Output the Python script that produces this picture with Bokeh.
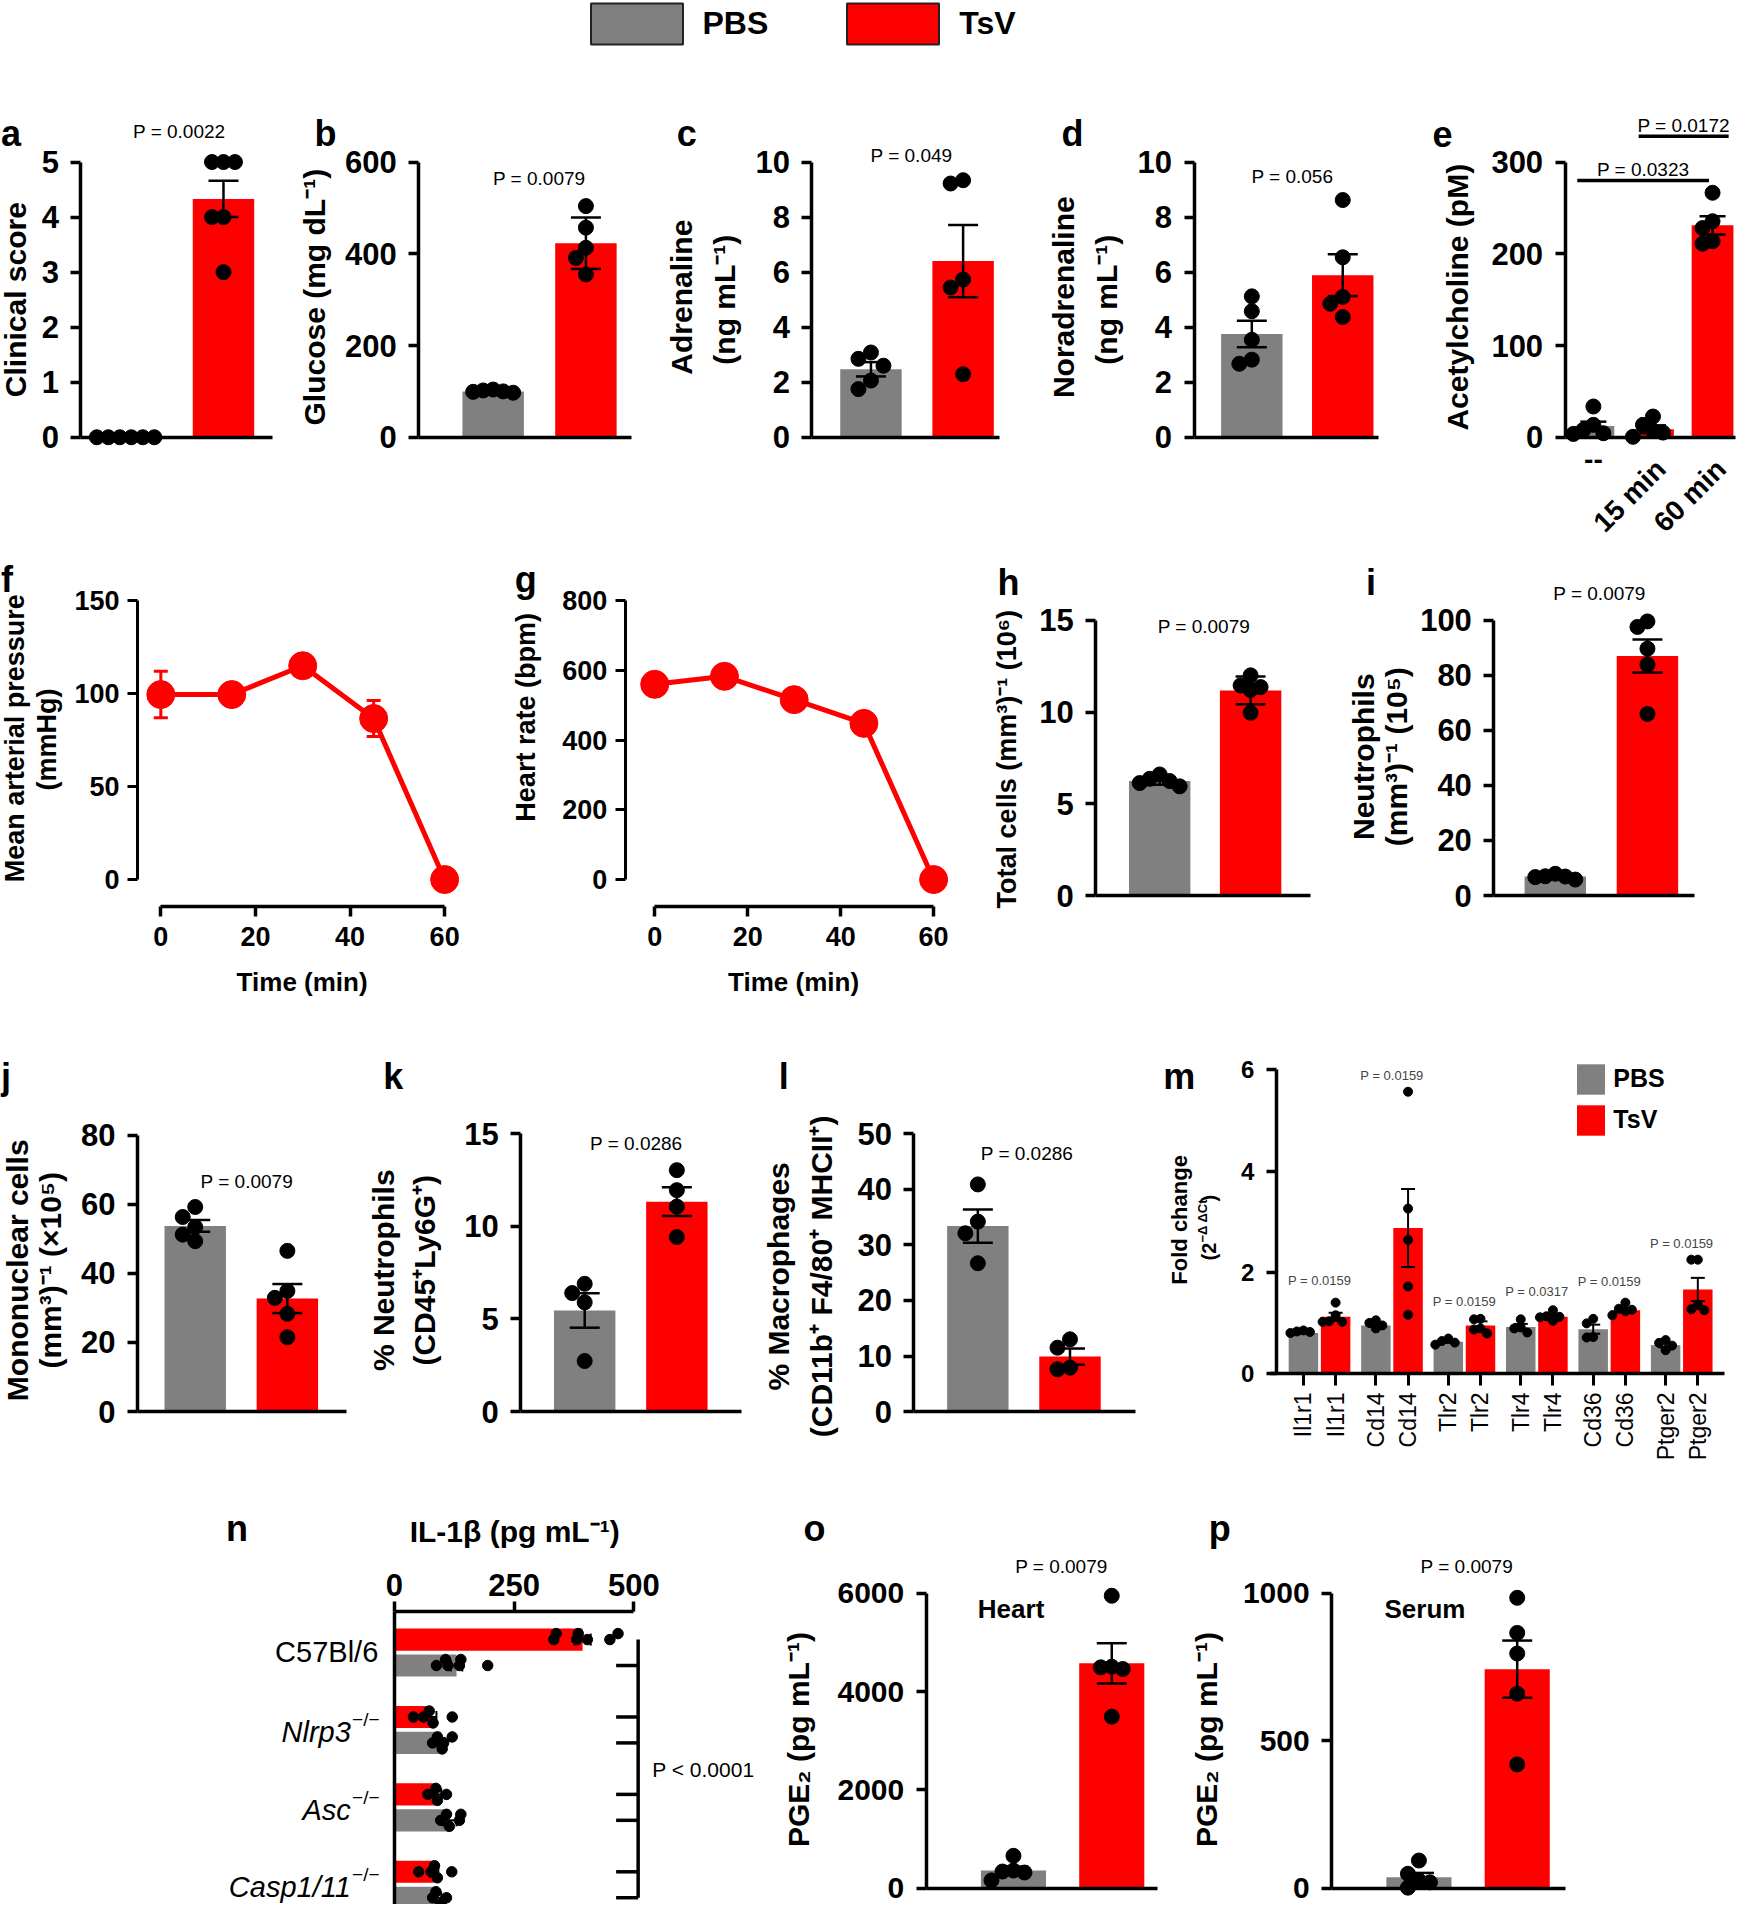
import math
from bokeh.plotting import figure
from bokeh.layouts import column, row
from bokeh.models import (Range1d, FixedTicker, Label, ColumnDataSource, Whisker,
                          TeeHead, Legend, LegendItem)
from bokeh.embed import file_html
from bokeh.resources import INLINE

# ---------------------------------------------------------------- data
GROUPS = ["PBS", "TsV"]

A_TICKS = [0, 1, 2, 3, 4, 5]
A_MEAN = [0.0, 4.33]
A_SEM = [0.0, 0.33]
A_PBS = [0, 0, 0, 0, 0, 0]
A_TSV = [5, 5, 5, 4, 4, 3]
A_P = "P = 0.0022"

B_TICKS = [0, 200, 400, 600]
B_MEAN = [100, 423]
B_SEM = [1.5, 56]
B_PBS = [104, 102, 100, 99, 97]
B_TSV = [504, 457, 413, 391, 355]
B_P = "P = 0.0079"

C_TICKS = [0, 2, 4, 6, 8, 10]
C_MEAN = [2.47, 6.40]
C_SEM = [0.26, 1.31]
C_PBS = [3.08, 2.85, 2.60, 2.06, 1.75]
C_TSV = [9.34, 9.22, 5.73, 5.44, 2.29]
C_P = "P = 0.049"

D_TICKS = [0, 2, 4, 6, 8, 10]
D_MEAN = [3.75, 5.89]
D_SEM = [0.48, 0.76]
D_PBS = [5.12, 4.58, 3.54, 2.82, 2.67]
D_TSV = [8.62, 6.54, 5.10, 4.85, 4.37]
D_P = "P = 0.056"

E_CATS = ["--", "15 min", "60 min"]
E_TICKS = [0, 100, 200, 300]
E_MEAN = [12.4, 8.7, 231]
E_SEM = [4.6, 4.3, 10]
E_DOTS = [[33.5, 13.5, 8, 4.4, 3.6], [22.6, 13.5, 7.3, 5.1, 0.5], [266.5, 235.5, 228, 213.7, 211]]
E_BRACKETS = [(0, 2, 280, "P = 0.0323"), (1, 2, 328, "P = 0.0172")]

TIME = [0, 15, 30, 45, 60]
TIME_TICKS = [0, 20, 40, 60]
F_TICKS = [0, 50, 100, 150]
F_MAP = [99.5, 99.5, 115, 86.6, 0]
F_ERR = [12.5, 0, 0, 9.7, 0]
G_TICKS = [0, 200, 400, 600, 800]
G_HR = [560, 583, 516, 448, 0]

H_TICKS = [0, 5, 10, 15]
H_MEAN = [6.24, 11.18]
H_SEM = [0.2, 0.76]
H_PBS = [6.6, 6.36, 6.24, 6.13, 5.95]
H_TSV = [12.0, 11.45, 11.36, 11.2, 9.96]
H_P = "P = 0.0079"

I_TICKS = [0, 20, 40, 60, 80, 100]
I_MEAN = [6.9, 87.0]
I_SEM = [0.35, 6.0]
I_PBS = [7.9, 7.0, 6.9, 6.7, 5.8]
I_TSV = [99.6, 97.6, 89.7, 83.9, 66.0]
I_P = "P = 0.0079"

J_TICKS = [0, 20, 40, 60, 80]
J_MEAN = [53.7, 32.7]
J_SEM = [1.7, 4.2]
J_PBS = [59.2, 56.3, 53.4, 51.2, 49.3]
J_TSV = [46.5, 34.9, 32.9, 28.3, 21.5]
J_P = "P = 0.0079"

K_TICKS = [0, 5, 10, 15]
K_MEAN = [5.46, 11.34]
K_SEM = [0.93, 0.78]
K_PBS = [6.9, 6.4, 5.9, 2.73]
K_TSV = [13.04, 11.96, 11.07, 9.43]
K_P = "P = 0.0286"

L_TICKS = [0, 10, 20, 30, 40, 50]
L_MEAN = [33.4, 9.9]
L_SEM = [3.0, 1.45]
L_PBS = [40.9, 34.2, 32.1, 26.7]
L_TSV = [13.0, 11.5, 7.9, 7.6]
L_P = "P = 0.0286"

M_GENES = ["Il1r1", "Cd14", "Tlr2", "Tlr4", "Cd36", "Ptger2"]
M_TICKS = [0, 2, 4, 6]
M_PBS_MEAN = [0.80, 0.95, 0.625, 0.92, 0.875, 0.56]
M_PBS_SEM = [0.01, 0.03, 0.02, 0.06, 0.09, 0.045]
M_TSV_MEAN = [1.12, 2.875, 0.95, 1.12, 1.25, 1.66]
M_TSV_SEM = [0.08, 0.77, 0.08, 0.03, 0.04, 0.23]
M_PBS_DOTS = [[0.85, 0.83, 0.82, 0.80], [1.05, 1.0, 0.95, 0.89], [0.69, 0.64, 0.61, 0.57],
              [1.07, 0.91, 0.89, 0.81], [1.08, 0.99, 0.72, 0.71], [0.66, 0.605, 0.55, 0.46]]
M_TSV_DOTS = [[1.40, 1.15, 1.03, 1.02, 1.02], [5.57, 3.26, 2.64, 1.72, 1.16],
              [1.08, 1.07, 0.89, 0.87, 0.79], [1.25, 1.13, 1.12, 1.11, 1.04],
              [1.40, 1.28, 1.26, 1.23, 1.15], [2.25, 2.25, 1.35, 1.27, 1.25]]
M_P = ["P = 0.0159", "P = 0.0159", "P = 0.0159", "P = 0.0317", "P = 0.0159", "P = 0.0159"]

N_STRAINS = ["C57Bl/6", "Nlrp3", "Asc", "Casp1/11"]
N_TICKS = [0, 250, 500]
N_TSV_MEAN = [393, 75, 90, 83]
N_TSV_SEM = [17, 13, 8, 9]
N_PBS_MEAN = [130, 98, 116, 92]
N_PBS_SEM = [12, 7, 14, 6]
N_TSV_DOTS = [[333, 338, 381, 384, 403, 450, 467], [40, 61, 73, 81, 121], [70, 87, 90, 109], [51, 77, 84, 90, 120]]
N_PBS_DOTS = [[88, 107, 112, 136, 139, 195], [80, 90, 100, 103, 121], [97, 109, 115, 136, 139], [80, 87, 98, 109]]
N_P = "P < 0.0001"

O_TICKS = [0, 2000, 4000, 6000]
O_MEAN = [360, 4576]
O_SEM = [80, 410]
O_PBS = [660, 360, 340, 320, 160]
O_TSV = [5952, 4508, 4495, 4461, 3492]
O_P = "P = 0.0079"

P_TICKS = [0, 500, 1000]
P_MEAN = [37, 743]
P_SEM = [15, 97]
P_PBS = [94, 49, 26, 20, 2]
P_TSV = [985, 866, 796, 660, 420]
P_P = "P = 0.0079"

# ---------------------------------------------------------------- layout helpers
S = 1752 / 1426.0
FONT = "Liberation Sans"
GRAY = "#808080"
RED = "#ff0000"
ROWS = [6.5, 44.77, 445, 835, 1215, 1556]


class Frame:
    pass


def R(v):
    return int(round(v * S))


def lin(px, a_val, a_px, b_val, b_px):
    return a_val + (px - a_px) * (b_val - a_val) / (b_px - a_px)


def make_fig(slot, rowi, xmap, ymap, **kw):
    """Figure whose frame is the whole slot; axes are drawn at fixed locations."""
    X0, X1 = R(slot[0]), R(slot[1])
    Y0, Y1 = R(ROWS[rowi]), R(ROWS[rowi + 1])
    xa, xpa, xb, xpb = xmap
    ya, ypa, yb, ypb = ymap
    fr = Frame()
    fr.xd = lambda d: lin(d * S, xa, xpa * S, xb, xpb * S)
    fr.yd = lambda d: lin(d * S, ya, ypa * S, yb, ypb * S)
    xr = Range1d(lin(X0, xa, xpa * S, xb, xpb * S), lin(X1, xa, xpa * S, xb, xpb * S))
    yr = Range1d(lin(Y1, ya, ypa * S, yb, ypb * S), lin(Y0, ya, ypa * S, yb, ypb * S))
    p = figure(width=X1 - X0, height=Y1 - Y0, x_range=xr, y_range=yr, min_border=0,
               min_border_left=0, min_border_right=0, min_border_top=0, min_border_bottom=0,
               output_backend="svg", toolbar_location=None, title=None, **kw)
    p.outline_line_color = None
    p.grid.visible = False
    fr.x0, fr.y1 = X0, Y1
    fr.xppu = abs((xpb - xpa) * S / (xb - xa))
    fr.yppu = abs((ypb - ypa) * S / (yb - ya))
    return p, fr


def T(p, fr, xd, yd, text, size, style="normal", align="center", baseline="middle", angle=0.0):
    p.add_layout(Label(x=xd * S - fr.x0, y=fr.y1 - yd * S, x_units="screen", y_units="screen",
                       text=text, text_font=FONT, text_font_size=f"{size}px",
                       text_font_style=style, text_align=align, text_baseline=baseline,
                       angle=angle, text_color="black"))


def axis_common(ax, font, lw=3.5, out=10, standoff=12, bold=True):
    ax.axis_line_width = lw
    ax.axis_line_color = "black"
    ax.major_tick_line_width = lw
    ax.major_tick_line_color = "black"
    ax.major_tick_out = out
    ax.major_tick_in = 0
    ax.minor_tick_line_color = None
    ax.major_label_text_font = FONT
    ax.major_label_text_font_size = f"{font}px"
    ax.major_label_text_font_style = "bold" if bold else "normal"
    ax.major_label_text_color = "black"
    ax.major_label_standoff = standoff


def yaxis_style(p, ticks, loc, font=31, lw=3.5, out=10, standoff=12):
    ax = p.yaxis[0]
    ax.fixed_location = loc
    ax.ticker = FixedTicker(ticks=list(ticks))
    ax.bounds = (ticks[0], ticks[-1])
    axis_common(ax, font, lw, out, standoff)


def xaxis_plain(p, loc, bounds, lw=3.5):
    ax = p.xaxis[0]
    ax.fixed_location = loc
    ax.bounds = bounds
    ax.ticker = FixedTicker(ticks=[])
    ax.major_label_text_font_size = "0px"
    ax.major_tick_line_color = None
    ax.minor_tick_line_color = None
    ax.axis_line_width = lw
    ax.axis_line_color = "black"


def swarm(vals, ppv, step, dmin):
    placed, offs = [], []
    for v in vals:
        pv = v * ppv
        o = 0.0
        for k in (0, -1, 1, -2, 2, -3, 3, -4, 4, -5, 5):
            o = k * step
            if all(abs(o - qo) >= step * 0.99 or abs(pv - qv) >= dmin for qo, qv in placed):
                break
        placed.append((o, pv))
        offs.append(o)
    return offs


def add_whiskers(p, base, means, sems, dim, cap, color="black", lw=2.5):
    b = [x for x, s in zip(base, sems) if s > 0]
    up = [m + s for m, s in zip(means, sems) if s > 0]
    lo = [m - s for m, s in zip(means, sems) if s > 0]
    src = ColumnDataSource(dict(base=b, upper=up, lower=lo))
    p.add_layout(Whisker(source=src, base="base", upper="upper", lower="lower", dimension=dim,
                         line_color=color, line_width=lw, level="annotation",
                         upper_head=TeeHead(size=cap, line_color=color, line_width=lw),
                         lower_head=TeeHead(size=cap, line_color=color, line_width=lw)))


def bar_panel(slot, rowi, axis_x, axis_end, zero_y, centers, bw, top_y, ticks, means, sems, dots,
              colors, tick_font=31, dot=15, step=12.5, cap=30):
    p, fr = make_fig(slot, rowi, (0, centers[0], 1, centers[1]), (0, zero_y, ticks[-1], top_y))
    xs = list(range(len(means)))
    p.vbar(x=xs, top=means, width=bw * S / fr.xppu, fill_color=colors, line_color=None)
    add_whiskers(p, xs, means, sems, "height", cap)
    dx, dy = [], []
    for i, vals in enumerate(dots):
        for o, v in zip(swarm(vals, fr.yppu, step, dot * 0.9), vals):
            dx.append(i + o / fr.xppu)
            dy.append(v)
    p.scatter(dx, dy, size=dot, color="black")
    yaxis_style(p, ticks, fr.xd(axis_x), tick_font)
    xaxis_plain(p, 0, (fr.xd(axis_x), fr.xd(axis_end)))
    return p, fr


LET = 36   # panel letter size
YL = 30    # y label size
PV = 19    # p value size
HALF = math.pi / 2

# ---------------------------------------------------------------- legend strip
lp = figure(width=1736, height=R(ROWS[1]) - R(ROWS[0]), x_range=Range1d(0, 1), y_range=Range1d(0, 1),
            x_axis_type=None, y_axis_type=None, min_border=0, output_backend="svg",
            toolbar_location=None, title=None)
lp.outline_line_color = None
r_pbs = lp.vbar(x=[0.5], top=[0], width=0, fill_color=GRAY, line_color="#222222", line_width=2)
r_tsv = lp.vbar(x=[0.5], top=[0], width=0, fill_color=RED, line_color="#222222", line_width=2)
lp.add_layout(Legend(items=[LegendItem(label=GROUPS[0], renderers=[r_pbs]),
                            LegendItem(label=GROUPS[1], renderers=[r_tsv])],
                     orientation="horizontal", location=(R(487) - 8 - 11.5, -2),
                     glyph_width=115, glyph_height=51, label_text_font=FONT,
                     label_text_font_size="32px", label_text_font_style="bold",
                     label_text_color="black",
                     label_standoff=9, spacing=67, padding=0, margin=0,
                     border_line_color=None, background_fill_alpha=0))

# ---------------------------------------------------------------- row 1
pa, fa = bar_panel((6.5, 240), 1, 72, 228, 362, (113, 188), 50, 138, A_TICKS,
                   A_MEAN, A_SEM, [A_PBS, A_TSV], [GRAY, RED], step=11.5)
T(pa, fa, 7, 115, "a", LET, "bold", "left", "alphabetic")
T(pa, fa, 19, 250, "Clinical score", YL, "bold", angle=HALF)
T(pa, fa, 152, 113, A_P, PV)

pb, fb = bar_panel((240, 540), 1, 347, 520, 362, (407.5, 483), 50, 138, B_TICKS,
                   B_MEAN, B_SEM, [B_PBS, B_TSV], [GRAY, RED], step=10)
T(pb, fb, 262, 115, "b", LET, "bold", "left", "alphabetic")
T(pb, fb, 262, 248, "Glucose (mg dL\u207b\u00b9)", YL, "bold", angle=HALF)
T(pb, fb, 445, 151, B_P, PV)

pc, fc = bar_panel((540, 850), 1, 667, 820, 362, (715, 790), 50, 138, C_TICKS,
                   C_MEAN, C_SEM, [C_PBS, C_TSV], [GRAY, RED])
T(pc, fc, 557, 115, "c", LET, "bold", "left", "alphabetic")
T(pc, fc, 561, 248, "Adrenaline", YL, "bold", angle=HALF)
T(pc, fc, 596, 250, "(ng mL\u207b\u00b9)", YL, "bold", angle=HALF)
T(pc, fc, 748, 133, C_P, PV)

pd, fd = bar_panel((850, 1160), 1, 978, 1128, 362, (1025, 1099), 50, 138, D_TICKS,
                   D_MEAN, D_SEM, [D_PBS, D_TSV], [GRAY, RED])
T(pd, fd, 870, 115, "d", LET, "bold", "left", "alphabetic")
T(pd, fd, 872, 248, "Noradrenaline", YL, "bold", angle=HALF)
T(pd, fd, 907, 250, "(ng mL\u207b\u00b9)", YL, "bold", angle=HALF)
T(pd, fd, 1058, 150, D_P, PV)

pe, fe = bar_panel((1160, 1419.5), 1, 1280, 1419, 362, (1303, 1351.5), 34, 138, E_TICKS,
                   E_MEAN, E_SEM, E_DOTS, [GRAY, RED, RED], step=10, cap=26)
T(pe, fe, 1172, 115, "e", LET, "bold", "left", "alphabetic")
T(pe, fe, 1192, 248, "Acetylcholine (pM)", YL, "bold", angle=HALF)
E_SPANS = [(-0.27, -0.06), (-0.24, 0.27)]
for (a, b, yv, txt), (da, db) in zip(E_BRACKETS, E_SPANS):
    pe.segment(x0=[a + da], y0=[yv], x1=[b + db], y1=[yv], line_width=3.5, line_color="black")
    T(pe, fe, 1303 + 48.5 * ((a + da + b + db) / 2), 362 - yv * 224 / 300 - 9, txt, PV)
T(pe, fe, 1303, 380, E_CATS[0], 28, "bold")
T(pe, fe, 1358, 384, E_CATS[1], 28, "bold", "right", "middle", math.pi / 4)
T(pe, fe, 1407, 384, E_CATS[2], 28, "bold", "right", "middle", math.pi / 4)

# ---------------------------------------------------------------- row 2
def line_panel(slot, axis_x, axis_y, x0px, x60px, zero_y, top_y, ticks, vals, errs):
    p, fr = make_fig(slot, 2, (0, x0px, 60, x60px), (0, zero_y, ticks[-1], top_y))
    p.line(TIME, vals, line_color=RED, line_width=5)
    add_whiskers(p, TIME, vals, errs, "height", 14, color=RED, lw=3)
    p.scatter(TIME, vals, size=28, color=RED)
    yaxis_style(p, ticks, fr.xd(axis_x), 27, lw=3, out=10, standoff=8)
    ax = p.xaxis[0]
    ax.fixed_location = fr.yd(axis_y)
    ax.ticker = FixedTicker(ticks=TIME_TICKS)
    ax.bounds = (0, 60)
    axis_common(ax, 27, lw=3.5, out=10, standoff=10)
    return p, fr


pf, ff = line_panel((6.5, 410), 118, 744, 137, 368, 722, 495, F_TICKS, F_MAP, F_ERR)
T(pf, ff, 7, 478, "f", LET, "bold", "left", "alphabetic")
T(pf, ff, 18, 607, "Mean arterial pressure", 27, "bold", angle=HALF)
T(pf, ff, 44, 608, "(mmHg)", 27, "bold", angle=HALF)
T(pf, ff, 252, 805, "Time (min)", 26, "bold")

pg, fg = line_panel((410, 800), 515, 744, 539, 766, 722, 495, G_TICKS, G_HR, [0] * 5)
T(pg, fg, 425, 478, "g", LET, "bold", "left", "alphabetic")
T(pg, fg, 434, 590, "Heart rate (bpm)", 27, "bold", angle=HALF)
T(pg, fg, 652, 805, "Time (min)", 26, "bold")

ph, fh = bar_panel((800, 1100), 2, 898, 1073, 735, (950, 1024), 50, 511, H_TICKS,
                   H_MEAN, H_SEM, [H_PBS, H_TSV], [GRAY, RED], step=10)
T(ph, fh, 818, 480, "h", LET, "bold", "left", "alphabetic")
T(ph, fh, 826, 624, "Total cells (mm\u00b3)\u207b\u00b9 (10\u2076)", 27, "bold", angle=HALF)
T(ph, fh, 986, 516, H_P, PV)

pi_, fi = bar_panel((1100, 1419.5), 2, 1222, 1385, 735, (1272, 1347), 50, 511, I_TICKS,
                    I_MEAN, I_SEM, [I_PBS, I_TSV], [GRAY, RED], step=10)
T(pi_, fi, 1118, 480, "i", LET, "bold", "left", "alphabetic")
T(pi_, fi, 1116, 622, "Neutrophils", YL, "bold", angle=HALF)
T(pi_, fi, 1143, 622, "(mm\u00b3)\u207b\u00b9 (10\u2075)", YL, "bold", angle=HALF)
T(pi_, fi, 1308, 489, I_P, PV)

# ---------------------------------------------------------------- row 3
pj, fj = bar_panel((6.5, 300), 3, 118, 288, 1155, (165, 240), 50, 930, J_TICKS,
                   J_MEAN, J_SEM, [J_PBS, J_TSV], [GRAY, RED])
T(pj, fj, 7, 882, "j", LET, "bold", "left", "alphabetic")
T(pj, fj, 20, 1040, "Mononuclear cells", YL, "bold", angle=HALF)
T(pj, fj, 47, 1040, "(mm\u00b3)\u207b\u00b9 (\u00d710\u2075)", YL, "bold", angle=HALF)
T(pj, fj, 207, 968, J_P, PV)

pk, fk = bar_panel((300, 620), 3, 430, 610, 1155, (482, 557), 50, 929, K_TICKS,
                   K_MEAN, K_SEM, [K_PBS, K_TSV], [GRAY, RED])
T(pk, fk, 318, 882, "k", LET, "bold", "left", "alphabetic")
T(pk, fk, 318, 1040, "% Neutrophils", YL, "bold", angle=HALF)
T(pk, fk, 352, 1040, "(CD45\u207aLy6G\u207a)", YL, "bold", angle=HALF)
T(pk, fk, 524, 937, K_P, PV)

pl, fl = bar_panel((620, 945), 3, 750, 930, 1155, (802, 877), 50, 929, L_TICKS,
                   L_MEAN, L_SEM, [L_PBS, L_TSV], [GRAY, RED])
T(pl, fl, 640, 882, "l", LET, "bold", "left", "alphabetic")
T(pl, fl, 640, 1045, "% Macrophages", YL, "bold", angle=HALF)
T(pl, fl, 675, 1045, "(CD11b\u207a F4/80\u207a MHCII\u207a)", YL, "bold", angle=HALF)
T(pl, fl, 842, 945, L_P, PV)

# panel m
M_X_GRAY = [9 * g for g in range(len(M_GENES))]
M_X_RED = [9 * g + 4 for g in range(len(M_GENES))]
pm, fm = make_fig((945, 1419.5), 3, (0, 1067, 49, 1388), (0, 1124, 6, 877))
bw_m = 24 * S / fm.xppu
rg = pm.vbar(x=M_X_GRAY, top=M_PBS_MEAN, width=bw_m, fill_color=GRAY, line_color=None)
rr = pm.vbar(x=M_X_RED, top=M_TSV_MEAN, width=bw_m, fill_color=RED, line_color=None)
add_whiskers(pm, M_X_GRAY + M_X_RED, M_PBS_MEAN + M_TSV_MEAN, M_PBS_SEM + M_TSV_SEM, "height", 14, lw=2)
mdx, mdy = [], []
for xs_, groups in ((M_X_GRAY, M_PBS_DOTS), (M_X_RED, M_TSV_DOTS)):
    for xc, vals in zip(xs_, groups):
        for o, v in zip(swarm(vals, fm.yppu, 6.5, 8), vals):
            mdx.append(xc + o / fm.xppu)
            mdy.append(v)
pm.scatter(mdx, mdy, size=9, color="black")
yaxis_style(pm, M_TICKS, fm.xd(1045), 24)
axm = pm.xaxis[0]
axm.fixed_location = 0
axm.bounds = (fm.xd(1040), fm.xd(1410))
axm.ticker = FixedTicker(ticks=M_X_GRAY + M_X_RED)
axm.major_label_overrides = {x: g for x, g in zip(M_X_GRAY, M_GENES)} | {x: g for x, g in zip(M_X_RED, M_GENES)}
axis_common(axm, 23, lw=3.5, out=12, standoff=7, bold=False)
axm.major_tick_line_width = 3
axm.major_label_orientation = HALF
M_P_Y = [1.84, 5.9, 1.43, 1.63, 1.82, 2.57]
for g, (txt, yv) in enumerate(zip(M_P, M_P_Y)):
    pm.add_layout(Label(x=9 * g + 2, y=yv, text=txt, text_font=FONT, text_font_size="13px",
                        text_align="center", text_baseline="middle"))
pm.add_layout(Legend(items=[LegendItem(label=GROUPS[0], renderers=[rg]),
                            LegendItem(label=GROUPS[1], renderers=[rr])],
                     location=((1290 - 945) * S - 3.5, (1215 - 930) * S - 3.8),
                     glyph_width=35, glyph_height=38,
                     label_text_font=FONT, label_text_font_size="25px", label_text_font_style="bold",
                     label_text_color="black",
                     label_standoff=5, spacing=3, padding=0, margin=0,
                     border_line_color=None, background_fill_alpha=0))
T(pm, fm, 953, 882, "m", LET, "bold", "left", "alphabetic")
T(pm, fm, 966, 999, "Fold change", 22, "bold", angle=HALF)
T(pm, fm, 990, 1032, "(2", 20, "bold", "left", "middle", HALF)
T(pm, fm, 985, 1017.5, "\u2212\u0394 \u0394Ct", 13, "bold", "left", "middle", HALF)
T(pm, fm, 990, 984, ")", 20, "bold", "left", "middle", HALF)

# ---------------------------------------------------------------- row 4
pn, fn = make_fig((6.5, 640), 4, (0, 327, 500, 522), (0, 1351, 1, 1414), x_axis_location="above")
N_Y_TSV = [g - 0.165 for g in range(len(N_STRAINS))]
N_Y_PBS = [g + 0.17 for g in range(len(N_STRAINS))]
bh = 18 * S / fn.yppu
pn.hbar(y=N_Y_TSV, right=N_TSV_MEAN, height=bh, left=0, fill_color=RED, line_color=None)
pn.hbar(y=N_Y_PBS, right=N_PBS_MEAN, height=bh, left=0, fill_color=GRAY, line_color=None)
add_whiskers(pn, N_Y_TSV + N_Y_PBS, N_TSV_MEAN + N_PBS_MEAN, N_TSV_SEM + N_PBS_SEM, "width", 12, lw=2)
ndx, ndy = [], []
for ys_, groups in ((N_Y_TSV, N_TSV_DOTS), (N_Y_PBS, N_PBS_DOTS)):
    for yc, vals in zip(ys_, groups):
        for o, v in zip(swarm(vals, fn.xppu, 6, 10), vals):
            ndx.append(v)
            ndy.append(yc + o / fn.yppu)
pn.scatter(ndx, ndy, size=10.5, color="black")
axn = pn.xaxis[0]
axn.fixed_location = fn.yd(1318)
axn.ticker = FixedTicker(ticks=N_TICKS)
axn.bounds = (0, 500)
axis_common(axn, 31, lw=3.5, out=10, standoff=6)
ayn = pn.yaxis[0]
ayn.fixed_location = 0
ayn.bounds = (fn.yd(1318), fn.yd(1568))
ayn.ticker = FixedTicker(ticks=[])
ayn.major_label_text_font_size = "0px"
ayn.major_tick_line_color = None
ayn.minor_tick_line_color = None
ayn.axis_line_width = 3.5
BX = 509
tick_ys = N_Y_PBS[:1] + [y for pair in zip(N_Y_TSV[1:], N_Y_PBS[1:]) for y in pair]
pn.segment(x0=[BX], y0=[N_Y_TSV[0]], x1=[BX], y1=[N_Y_PBS[-1]], line_width=3.5, line_color="black")
pn.segment(x0=[463] * len(tick_ys), y0=tick_ys, x1=[BX] * len(tick_ys), y1=tick_ys,
           line_width=3.5, line_color="black")
T(pn, fn, 190, 1250, "n", LET, "bold", "left", "alphabetic")
T(pn, fn, 425, 1253, "IL-1\u03b2 (pg mL\u207b\u00b9)", YL, "bold")
T(pn, fn, 537, 1446, N_P, 21, "normal", "left")
sup_w = 1.446 * 19 / S
for g, name in enumerate(N_STRAINS):
    yc = 1351 + 63 * g
    if g == 0:
        T(pn, fn, 314, yc, name, 29, "normal", "right")
    else:
        T(pn, fn, 314 - sup_w, yc + 2, name, 29, "italic", "right")
        T(pn, fn, 315, yc - 8, "\u2212/\u2212", 19, "normal", "right")

po, fo = bar_panel((640, 965), 4, 760, 948, 1543, (831, 911), 53, 1303, O_TICKS,
                   O_MEAN, O_SEM, [O_PBS, O_TSV], [GRAY, RED], tick_font=30, step=11)
T(po, fo, 660, 1250, "o", LET, "bold", "left", "alphabetic")
T(po, fo, 656, 1422, "PGE\u2082 (pg mL\u207b\u00b9)", YL, "bold", angle=HALF)
T(po, fo, 802, 1316, "Heart", 26, "bold", "left")
T(po, fo, 870, 1281, O_P, PV)

pp, fp = bar_panel((965, 1419.5), 4, 1090, 1280, 1543, (1161, 1241), 53, 1303, P_TICKS,
                   P_MEAN, P_SEM, [P_PBS, P_TSV], [GRAY, RED], tick_font=30, step=11)
T(pp, fp, 990, 1250, "p", LET, "bold", "left", "alphabetic")
T(pp, fp, 988, 1422, "PGE\u2082 (pg mL\u207b\u00b9)", YL, "bold", angle=HALF)
T(pp, fp, 1133, 1316, "Serum", 26, "bold", "left")
T(pp, fp, 1200, 1281, P_P, PV)

layout = column(lp,
                row(pa, pb, pc, pd, pe),
                row(pf, pg, ph, pi_),
                row(pj, pk, pl, pm),
                row(pn, po, pp))

open("out.html", "w").write(file_html(layout, INLINE, "TsV figure"))
